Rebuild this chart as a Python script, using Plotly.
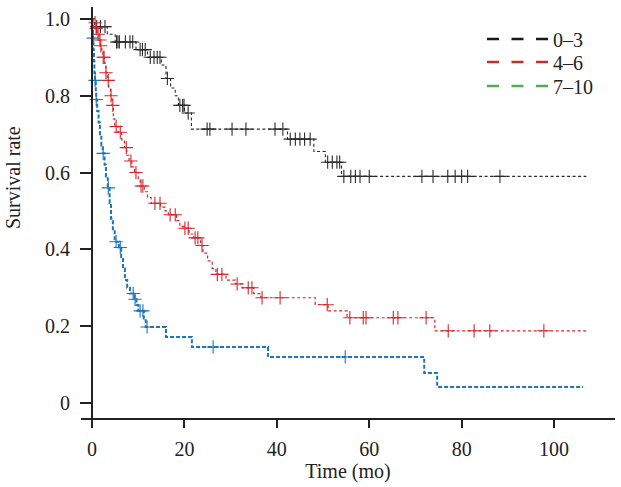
import plotly.graph_objects as go

# ---------------- data ----------------
groups = ["0–3", "4–6", "7–10"]

# Kaplan-Meier steps: (time of drop, survival after drop)
black_step_t = [0.5, 3.3, 5.0, 9.5, 12.0, 15.0, 16.0, 17.0, 18.0, 18.7, 20.0, 21.5, 42.3, 48.0, 50.5, 54.0]
black_step_s = [0.98, 0.96, 0.94, 0.92, 0.90, 0.88, 0.845, 0.82, 0.80, 0.775, 0.755, 0.713, 0.687, 0.655, 0.627, 0.59]
black_end = 107
black_cens = [1.0, 1.8, 2.8, 5.3, 5.6, 5.9, 7.2, 8.2, 8.8, 10.4, 10.9, 11.5, 12.6, 13.4, 14.1, 14.7,
              16.3, 19.0, 19.6, 19.9, 20.8, 24.9, 25.5, 30.3, 33.3, 39.6, 41.3,
              42.9, 44.0, 45.0, 46.0, 47.2, 51.0, 52.0, 53.0, 53.6, 54.5, 56.0, 57.0, 58.0, 60.0,
              71.4, 73.8, 77.0, 78.6, 80.0, 81.3, 88.3]

red_step_t = [0.3, 0.8, 1.1, 1.5, 1.8, 2.1, 2.4, 2.7, 3.0, 3.3, 3.6, 4.0, 4.3, 4.6, 4.9, 5.6, 6.4, 7.0,
              7.5, 8.0, 8.6, 9.2, 10.0, 10.4, 11.3, 12.0, 12.8, 14.8, 15.8, 16.5, 18.3, 19.0, 20.0,
              21.0, 22.0, 23.5, 24.0, 25.0, 26.0, 26.8, 29.0, 31.0, 32.5, 35.0, 36.5, 48.3, 51.1,
              55.2, 74.2]
red_step_s = [0.99, 0.975, 0.96, 0.945, 0.93, 0.915, 0.90, 0.885, 0.86, 0.84, 0.82, 0.80, 0.775, 0.74,
              0.72, 0.705, 0.685, 0.665, 0.645, 0.63, 0.615, 0.60, 0.58, 0.565, 0.55, 0.535, 0.52,
              0.51, 0.50, 0.49, 0.475, 0.46, 0.455, 0.44, 0.43, 0.41, 0.39, 0.37, 0.35, 0.335, 0.32,
              0.31, 0.30, 0.285, 0.274, 0.256, 0.240, 0.222, 0.188]
red_end = 107
red_cens = [0.65, 0.87, 1.3, 1.7, 1.9, 2.4, 2.6, 3.0, 3.5, 4.1, 4.5, 5.2, 6.1, 7.4, 8.4, 9.5, 10.6,
            11.0, 13.6, 14.7, 16.9, 18.0, 20.1, 20.8, 22.3, 22.9, 23.8, 27.1, 28.1, 31.4, 33.8,
            34.6, 36.8, 40.7, 50.9, 55.8, 58.7, 59.3, 65.2, 66.2, 72.3, 77.1, 82.7, 86.1, 97.8]

blue_step_t = [0.1, 0.2, 0.3, 0.4, 0.5, 0.65, 0.8, 0.9, 1.1, 1.4, 1.7, 2.0, 2.3, 2.7, 3.0, 3.4, 3.8,
               4.1, 4.5, 4.9, 5.8, 6.3, 6.7, 7.1, 7.6, 8.2, 9.2, 9.6, 10.0, 11.2, 11.6, 16.0, 21.6,
               38.1, 71.9, 74.7]
blue_step_s = [0.98, 0.95, 0.92, 0.89, 0.86, 0.84, 0.81, 0.79, 0.76, 0.73, 0.70, 0.67, 0.65, 0.62,
               0.59, 0.56, 0.52, 0.48, 0.45, 0.42, 0.405, 0.38, 0.35, 0.32, 0.30, 0.285, 0.27, 0.255,
               0.24, 0.22, 0.198, 0.172, 0.146, 0.12, 0.078, 0.042]
blue_end = 106.3
blue_cens = [0.25, 0.65, 0.9, 2.4, 3.5, 5.2, 6.1, 8.9, 9.3, 10.4, 11.0, 11.9, 26.2, 54.8]

y_ticks = [0, 0.2, 0.4, 0.6, 0.8, 1.0]
y_ticklabels = ["0", "0.2", "0.4", "0.6", "0.8", "1.0"]
x_ticks = [0, 20, 40, 60, 80, 100]

# ---------------- helpers ----------------
def km_path(ts, ss, end):
    xs = [0] + list(ts) + [end]
    ys = [1.0] + list(ss) + [ss[-1]]
    return xs, ys

def surv_at(t, ts, ss):
    s = 1.0
    for ti, si in zip(ts, ss):
        if ti <= t:
            s = si
        else:
            break
    return s

line_colors = ["#2b2b2b", "#d7262b", "#1c75b8"]
legend_colors = ["#1a1a1a", "#c62d2d", "#4caf50"]
series = [
    (black_step_t, black_step_s, black_end, black_cens, 1.1, "3px,2.5px"),
    (red_step_t, red_step_s, red_end, red_cens, 1.2, "3px,2.5px"),
    (blue_step_t, blue_step_s, blue_end, blue_cens, 2.0, "4px,2px"),
]

fig = go.Figure()
for (ts, ss, end, cens, lw, dash), col, name in zip(series, line_colors, groups):
    xs, ys = km_path(ts, ss, end)
    fig.add_trace(go.Scatter(x=xs, y=ys, mode="lines", line=dict(color=col, width=lw, dash=dash, shape="hv"),
                             name=name, showlegend=False, hoverinfo="skip"))
    fig.add_trace(go.Scatter(x=cens, y=[surv_at(c, ts, ss) for c in cens], mode="markers",
                             marker=dict(symbol="cross-thin", size=9.5, line=dict(color=col, width=1.1)),
                             name=name, showlegend=False, hoverinfo="skip"))

XMIN, XMAX = -2.4, 113.2
YMIN, YMAX = -0.039, 1.031
L, R, T, B = 81, 6, 7, 69
W, H = 621, 487
pw, ph = W - L - R, H - T - B

def px2paper_x(px):
    return (px - L) / pw

def px2paper_y(py):
    return (H - B - py) / ph

font = "Liberation Serif, Times New Roman, serif"
axcol = "#222222"
fig.update_layout(
    width=W, height=H, margin=dict(l=L, r=R, t=T, b=B, autoexpand=False),
    plot_bgcolor="white", paper_bgcolor="white",
    font=dict(family=font, size=20, color="#222222"),
    showlegend=False,
    xaxis=dict(range=[XMIN, XMAX], tickvals=x_ticks, showgrid=False, zeroline=False, automargin=False,
               showline=True, linecolor=axcol, linewidth=2, ticks="outside", ticklen=8,
               tickwidth=2, tickcolor=axcol, tickfont=dict(size=20), ticklabelstandoff=4,
               title=dict(text="Time (mo)", font=dict(size=20), standoff=4)),
    yaxis=dict(range=[YMIN, YMAX], tickvals=y_ticks, ticktext=y_ticklabels, showgrid=False,
               zeroline=False, showline=True, linecolor=axcol, linewidth=2, ticks="outside",
               ticklen=11, tickwidth=2, tickcolor=axcol, tickfont=dict(size=20), automargin=False,
               anchor="free", position=(0 - XMIN) / (XMAX - XMIN), ticklabelstandoff=6),
)

# y-axis title
fig.add_annotation(text="Survival rate", xref="paper", yref="paper", x=px2paper_x(13), y=px2paper_y(178),
                   textangle=-90, showarrow=False, font=dict(size=20, family=font, color="#222222"),
                   xanchor="center", yanchor="middle")

# legend
leg_y = [39, 62, 86]
for name, col, py in zip(groups, legend_colors, leg_y):
    fig.add_shape(type="line", xref="paper", yref="paper", x0=px2paper_x(487), x1=px2paper_x(549),
                  y0=px2paper_y(py), y1=px2paper_y(py), line=dict(color=col, width=2.5, dash="12px,12.5px"))
    fig.add_annotation(text=name, xref="paper", yref="paper", x=px2paper_x(551), y=px2paper_y(py + 1),
                       xanchor="left", yanchor="middle", showarrow=False,
                       font=dict(size=20, family=font, color="#222222"))

fig.write_html("out.html", config={"displayModeBar": False},
               post_script="document.body.style.margin='0';document.body.style.overflow='hidden';")
